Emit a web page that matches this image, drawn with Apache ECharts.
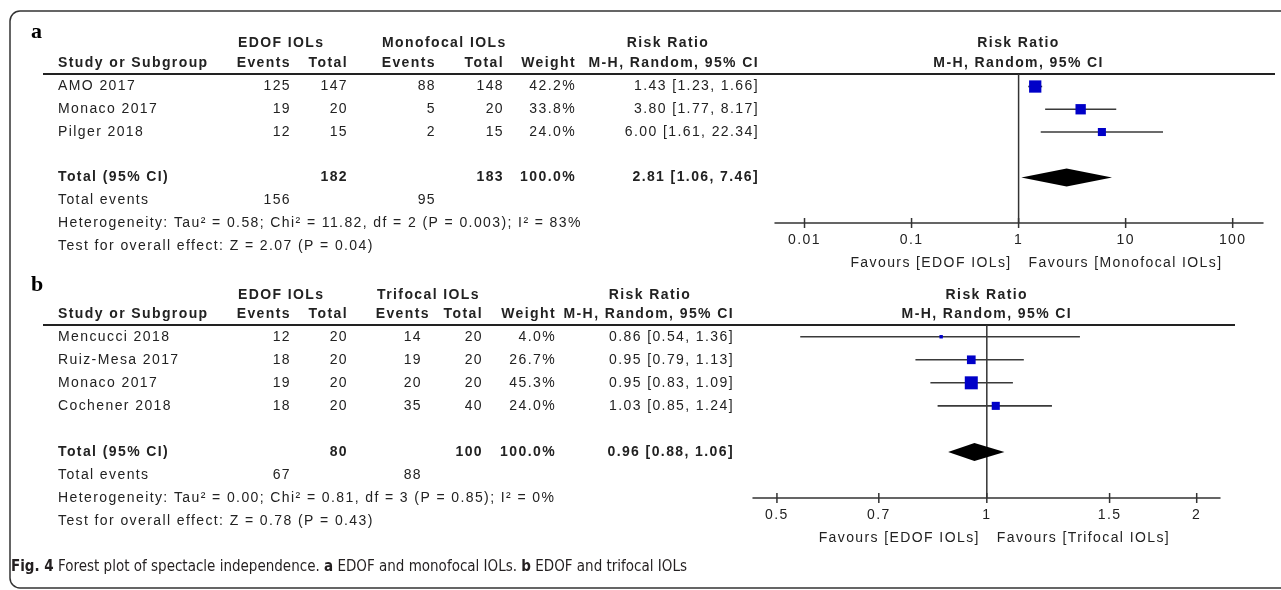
<!DOCTYPE html>
<html>
<head>
<meta charset="utf-8">
<script src="https://cdn.jsdelivr.net/npm/echarts@6/dist/echarts.min.js"></script>
<style>
  html, body { margin: 0; padding: 0; background: #fff; }
  #main { width: 1281px; height: 590px; }
</style>
</head>
<body>
<div id="main"></div>
<script>
// ---- a: EDOF vs monofocal IOLs ----
const studiesA   = ['AMO 2017', 'Monaco 2017', 'Pilger 2018'];
const edofEvA    = [125, 19, 12];
const edofTotA   = [147, 20, 15];
const ctrlEvA    = [88, 5, 2];
const ctrlTotA   = [148, 20, 15];
const weightA    = [42.2, 33.8, 24.0];
const rrA        = [1.43, 3.80, 6.00];
const lowA       = [1.23, 1.77, 1.61];
const highA      = [1.66, 8.17, 22.34];
const pooledA    = [2.81, 1.06, 7.46];        // estimate, lower, upper
const totalsA    = [156, 182, 95, 183];       // EDOF events, EDOF total, control events, control total
const hetA       = 'Heterogeneity: Tau² = 0.58; Chi² = 11.82, df = 2 (P = 0.003); I² = 83%';
const testA      = 'Test for overall effect: Z = 2.07 (P = 0.04)';
const ticksA     = [0.01, 0.1, 1, 10, 100];
const favoursA   = ['Favours [EDOF IOLs]', 'Favours [Monofocal IOLs]'];

// ---- b: EDOF vs trifocal IOLs ----
const studiesB   = ['Mencucci 2018', 'Ruiz-Mesa 2017', 'Monaco 2017', 'Cochener 2018'];
const edofEvB    = [12, 18, 19, 18];
const edofTotB   = [20, 20, 20, 20];
const ctrlEvB    = [14, 19, 20, 35];
const ctrlTotB   = [20, 20, 20, 40];
const weightB    = [4.0, 26.7, 45.3, 24.0];
const rrB        = [0.86, 0.95, 0.95, 1.03];
const lowB       = [0.54, 0.79, 0.83, 0.85];
const highB      = [1.36, 1.13, 1.09, 1.24];
const pooledB    = [0.96, 0.88, 1.06];
const totalsB    = [67, 80, 88, 100];
const hetB       = 'Heterogeneity: Tau² = 0.00; Chi² = 0.81, df = 3 (P = 0.85); I² = 0%';
const testB      = 'Test for overall effect: Z = 0.78 (P = 0.43)';
const ticksB     = [0.5, 0.7, 1, 1.5, 2];
const favoursB   = ['Favours [EDOF IOLs]', 'Favours [Trifocal IOLs]'];

// RevMan-style table type is tracked out a little wider than plain Arial.
(function () {
  const proto = CanvasRenderingContext2D.prototype;
  const fill = proto.fillText;
  proto.fillText = function (t, x, y, m) {
    try { this.letterSpacing = /Arial/.test(this.font) ? '1.4px' : '0px'; } catch (e) {}
    return m === undefined ? fill.call(this, t, x, y) : fill.call(this, t, x, y, m);
  };
})();

const FONT = "Arial, 'Liberation Sans', sans-serif";
const CAPTION_FONT = "'Liberation Sans Narrow', 'DejaVu Sans Condensed', sans-serif";
const INK = '#222';
const BLUE = '#0000c8';

const chart = echarts.init(document.getElementById('main'), null, { renderer: 'canvas', width: 1281, height: 590 });

// box side grows with study weight
const boxSize = w => 2.5 + w * 0.232;

function studySeries(idx, rr, low, high, w) {
  return {
    type: 'custom', xAxisIndex: idx, yAxisIndex: idx, clip: false, silent: true,
    data: rr.map((v, i) => [v, i, low[i], high[i], w[i]]),
    encode: { x: 0, y: 1 },
    renderItem(params, api) {
      const c = api.coord([api.value(0), api.value(1)]);
      const l = api.coord([api.value(2), api.value(1)]);
      const h = api.coord([api.value(3), api.value(1)]);
      const s = boxSize(api.value(4));
      return { type: 'group', children: [
        { type: 'line', shape: { x1: l[0], y1: c[1], x2: h[0], y2: c[1] }, style: { stroke: '#3a3a3a', lineWidth: 1.6 } },
        { type: 'rect', shape: { x: c[0] - s / 2, y: c[1] - s / 2, width: s, height: s }, style: { fill: BLUE } }
      ] };
    }
  };
}

function diamondSeries(idx, pooled, row) {
  return {
    type: 'custom', xAxisIndex: idx, yAxisIndex: idx, clip: false, silent: true,
    data: [[pooled[0], row, pooled[1], pooled[2]]],
    encode: { x: 0, y: 1 },
    renderItem(params, api) {
      const c = api.coord([api.value(0), api.value(1)]);
      const l = api.coord([api.value(2), api.value(1)]);
      const h = api.coord([api.value(3), api.value(1)]);
      const hh = 9;
      return { type: 'polygon', shape: { points: [[l[0], c[1]], [c[0], c[1] - hh], [h[0], c[1]], [c[0], c[1] + hh]] },
               style: { fill: '#000' } };
    }
  };
}

// line of no effect plus tick marks and tick labels of the ratio axis
function axisSeries(idx, ticks) {
  return {
    type: 'custom', xAxisIndex: idx, yAxisIndex: idx, clip: false, silent: true,
    data: ticks.map(t => [t]),
    encode: { x: 0 },
    renderItem(params, api) {
      const cs = params.coordSys;
      const v = api.value(0);
      const x = api.coord([v, 0])[0];
      const yb = cs.y + cs.height;
      const kids = [
        { type: 'line', shape: { x1: x, y1: yb - 5, x2: x, y2: yb + 5 }, style: { stroke: '#333', lineWidth: 1.5 } },
        { type: 'text', x: x, y: yb + 17, style: { text: String(v), font: '14px ' + FONT, fill: INK, align: 'center', verticalAlign: 'middle' } }
      ];
      if (v === 1) {
        kids.push({ type: 'line', shape: { x1: x, y1: cs.y, x2: x, y2: yb }, style: { stroke: '#333', lineWidth: 1.5 } });
      }
      return { type: 'group', children: kids };
    }
  };
}

function xAxisOf(idx, range) {
  return {
    type: 'log', logBase: 10, gridIndex: idx, min: range[0], max: range[1],
    axisLine: { show: true, onZero: false, lineStyle: { color: '#333', width: 1.5 } },
    axisTick: { show: false }, axisLabel: { show: false }, splitLine: { show: false }
  };
}

chart.setOption({
  animation: false,
  backgroundColor: '#fff',
  grid: [
    { left: 775, right: 18, top: 74, height: 149 },
    { left: 753, right: 61, top: 325, height: 173 }
  ],
  // axis line runs slightly past the outermost ticks
  xAxis: [xAxisOf(0, [0.0053, 192]), xAxisOf(1, [0.462, 2.16])],
  yAxis: [
    { type: 'value', gridIndex: 0, inverse: true, min: -0.55, max: 6, show: false },
    { type: 'value', gridIndex: 1, inverse: true, min: -0.51, max: 7, show: false }
  ],
  series: [
    axisSeries(0, ticksA),
    studySeries(0, rrA, lowA, highA, weightA),
    diamondSeries(0, pooledA, 4),
    axisSeries(1, ticksB),
    studySeries(1, rrB, lowB, highB, weightB),
    diamondSeries(1, pooledB, 5)
  ]
});

function T(x, y, text, align, bold) {
  return { type: 'text', x: x, y: y, silent: true,
    style: { text: text, font: (bold ? 'bold ' : '') + '14px ' + FONT, fill: INK, align: align || 'left', verticalAlign: 'middle' } };
}

function panelGraphics(p) {
  const Y = r => chart.convertToPixel({ yAxisIndex: p.idx }, r);
  const one = chart.convertToPixel({ xAxisIndex: p.idx }, 1);
  const c = p.cols;
  const out = [];
  // panel letter
  out.push({ type: 'text', x: 31, y: Y(p.rows.letter), silent: true,
    style: { text: p.letter, font: "bold 22px 'Liberation Serif', serif", fill: '#000', verticalAlign: 'middle' } });
  // group headers
  const yg = Y(p.rows.group), yh = Y(p.rows.head);
  out.push(T(238, yg, 'EDOF IOLs', 'left', true));
  out.push(T(c.g2, yg, p.ctrlName, 'left', true));
  out.push(T(c.rrHead, yg, 'Risk Ratio', 'center', true));
  out.push(T(one, yg, 'Risk Ratio', 'center', true));
  // column headers
  out.push(T(58, yh, 'Study or Subgroup', 'left', true));
  out.push(T(c.e1 + 1, yh, 'Events', 'right', true));
  out.push(T(c.t1 + 1, yh, 'Total', 'right', true));
  out.push(T(c.e2h + 1, yh, 'Events', 'right', true));
  out.push(T(c.t2 + 1, yh, 'Total', 'right', true));
  out.push(T(c.w + 1, yh, 'Weight', 'right', true));
  out.push(T(c.rr + 1, yh, 'M-H, Random, 95% CI', 'right', true));
  out.push(T(one, yh, 'M-H, Random, 95% CI', 'center', true));
  // header rule
  const top = Y(p.yMin);
  out.push({ type: 'line', silent: true, shape: { x1: 43, y1: top, x2: p.ruleEnd, y2: top }, style: { stroke: '#222', lineWidth: 2 } });
  // study rows
  p.studies.forEach((s, i) => {
    const y = Y(i);
    out.push(T(58, y, s, 'left'));
    out.push(T(c.e1 + 1, y, String(p.edofEv[i]), 'right'));
    out.push(T(c.t1 + 1, y, String(p.edofTot[i]), 'right'));
    out.push(T(c.e2 + 1, y, String(p.ctrlEv[i]), 'right'));
    out.push(T(c.t2 + 1, y, String(p.ctrlTot[i]), 'right'));
    out.push(T(c.w + 1, y, p.weight[i].toFixed(1) + '%', 'right'));
    out.push(T(c.rr + 1, y, p.rr[i].toFixed(2) + ' [' + p.low[i].toFixed(2) + ', ' + p.high[i].toFixed(2) + ']', 'right'));
  });
  // pooled row
  const yt = Y(p.rows.total);
  out.push(T(58, yt, 'Total (95% CI)', 'left', true));
  out.push(T(c.t1 + 1, yt, String(p.totals[1]), 'right', true));
  out.push(T(c.t2 + 1, yt, String(p.totals[3]), 'right', true));
  out.push(T(c.w + 1, yt, '100.0%', 'right', true));
  out.push(T(c.rr + 1, yt, p.pooled[0].toFixed(2) + ' [' + p.pooled[1].toFixed(2) + ', ' + p.pooled[2].toFixed(2) + ']', 'right', true));
  const ye = Y(p.rows.total + 1);
  out.push(T(58, ye, 'Total events', 'left'));
  out.push(T(c.e1 + 1, ye, String(p.totals[0]), 'right'));
  out.push(T(c.e2 + 1, ye, String(p.totals[2]), 'right'));
  out.push(T(58, Y(p.rows.total + 2), p.het, 'left'));
  out.push(T(58, Y(p.rows.total + 3), p.test, 'left'));
  // favours captions under the ratio axis
  const yb = Y(p.yMax) + 40;
  out.push(T(one - 7, yb, p.favours[0], 'right'));
  out.push(T(one + 10, yb, p.favours[1], 'left'));
  return out;
}

const gA = panelGraphics({
  idx: 0, letter: 'a', ctrlName: 'Monofocal IOLs', yMin: -0.55, yMax: 6, ruleEnd: 1275,
  rows: { letter: -2.4, group: -1.91, head: -1.03, total: 4 },
  cols: { g2: 382, e1: 290, t1: 347, e2: 435, e2h: 435, t2: 503, w: 575, rr: 758, rrHead: 668 },
  studies: studiesA, edofEv: edofEvA, edofTot: edofTotA, ctrlEv: ctrlEvA, ctrlTot: ctrlTotA,
  weight: weightA, rr: rrA, low: lowA, high: highA, pooled: pooledA, totals: totalsA,
  het: hetA, test: testA, favours: favoursA
});
const gB = panelGraphics({
  idx: 1, letter: 'b', ctrlName: 'Trifocal IOLs', yMin: -0.51, yMax: 7, ruleEnd: 1235,
  rows: { letter: -2.25, group: -1.81, head: -0.985, total: 5 },
  cols: { g2: 377, e1: 290, t1: 347, e2: 421, e2h: 429, t2: 482, w: 555, rr: 733, rrHead: 650 },
  studies: studiesB, edofEv: edofEvB, edofTot: edofTotB, ctrlEv: ctrlEvB, ctrlTot: ctrlTotB,
  weight: weightB, rr: rrB, low: lowB, high: highB, pooled: pooledB, totals: totalsB,
  het: hetB, test: testB, favours: favoursB
});

chart.setOption({
  graphic: [
    { type: 'rect', silent: true, shape: { x: 10, y: 11, width: 1300, height: 577, r: 10 },
      style: { fill: 'none', stroke: '#333', lineWidth: 1.5 } },
    ...gA, ...gB,
    { type: 'text', x: 11, y: 567, silent: true,
      style: {
        text: '{b|Fig. 4} Forest plot of spectacle independence. {b|a} EDOF and monofocal IOLs. {b|b} EDOF and trifocal IOLs',
        font: '15px ' + CAPTION_FONT,
        fill: '#231f20', verticalAlign: 'middle',
        rich: { b: { fontWeight: 'bold', fontSize: 15, fontFamily: CAPTION_FONT, fill: '#231f20' } }
      } }
  ]
});
</script>
</body>
</html>
